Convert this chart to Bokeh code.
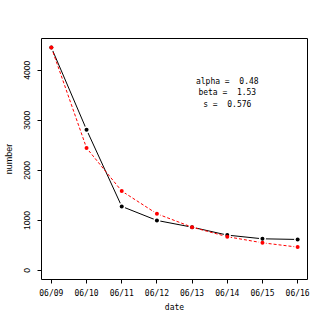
from bokeh.plotting import figure
from bokeh.models import Range1d, FixedTicker, ColumnDataSource, Title
from bokeh.embed import file_html
from bokeh.resources import INLINE
from bokeh.core.properties import value

dates = ["06/09", "06/10", "06/11", "06/12", "06/13", "06/14", "06/15", "06/16"]
observed = [4455, 2813, 1280, 1000, 865, 707, 633, 620]
fitted = [4455, 2447, 1587, 1133, 865, 675, 553, 467]
y_ticks = [0, 1000, 2000, 3000, 4000]
NB = "\u00a0"
note_lines = ["alpha =" + NB * 2 + "0.48", "beta =" + NB * 2 + "1.53", "s =" + NB * 2 + "0.576"]
note_x = [5, 5, 5]
note_y = [3780, 3553, 3320]
x_title = "date"
y_title = "number"

xs = list(range(len(dates)))

p = figure(width=311, height=311, output_backend="svg", toolbar_location=None,
           x_range=Range1d(-0.28, 7.28), y_range=Range1d(-180, 4634),
           min_border_left=38, min_border_right=4, min_border_top=38, min_border_bottom=32)
p.background_fill_color = "white"
p.border_fill_color = "white"
p.outline_line_color = "black"
p.outline_line_width = 1
p.xgrid.visible = False
p.ygrid.visible = False

mono = "DejaVu Sans Mono"
sans = "Liberation Sans"

p.xaxis.ticker = FixedTicker(ticks=xs)
p.xaxis.major_label_overrides = {i: d for i, d in enumerate(dates)}
p.yaxis.ticker = FixedTicker(ticks=y_ticks)
for ax in (p.xaxis[0], p.yaxis[0]):
    ax.axis_line_color = None
    ax.major_tick_in = 0
    ax.major_tick_out = 4
    ax.minor_tick_line_color = None
    ax.major_tick_line_color = "black"
    ax.axis_label_text_font_style = "normal"
    ax.axis_label_text_color = "black"
    ax.major_label_text_color = "black"

p.xaxis.major_label_text_font = mono
p.xaxis.major_label_text_font_size = "8px"
p.xaxis.major_label_standoff = 5

p.yaxis.axis_label = y_title
p.yaxis.axis_label_text_font = sans
p.yaxis.axis_label_text_font_size = "9px"
p.yaxis.major_label_text_font = sans
p.yaxis.major_label_text_font_size = "8.5px"
p.yaxis.major_label_orientation = "vertical"
p.yaxis.major_label_standoff = 7
p.yaxis.axis_label_standoff = 8

p.line(xs, observed, line_color="black", line_width=1)
p.line(xs, fitted, line_color="red", line_width=1, line_dash="3 2")
p.scatter(xs, observed, size=7, fill_color="white", line_color=None)
p.scatter(xs, fitted, size=7, fill_color="white", line_color=None)
p.scatter(xs, observed, size=4, fill_color="black", line_color=None)
p.scatter(xs, fitted, size=4, fill_color="red", line_color=None)

src = ColumnDataSource(dict(x=note_x, y=note_y, t=note_lines))
p.text(x="x", y="y", text="t", source=src, text_font=value(mono), text_font_size="8px",
       text_align="center", text_baseline="middle", text_color="black")

p.add_layout(Title(text=x_title, align="center", text_font=mono, text_font_size="8px",
                   text_font_style="normal", text_color="black", standoff=0, offset=0), "below")

open("out.html", "w").write(file_html(p, INLINE))
